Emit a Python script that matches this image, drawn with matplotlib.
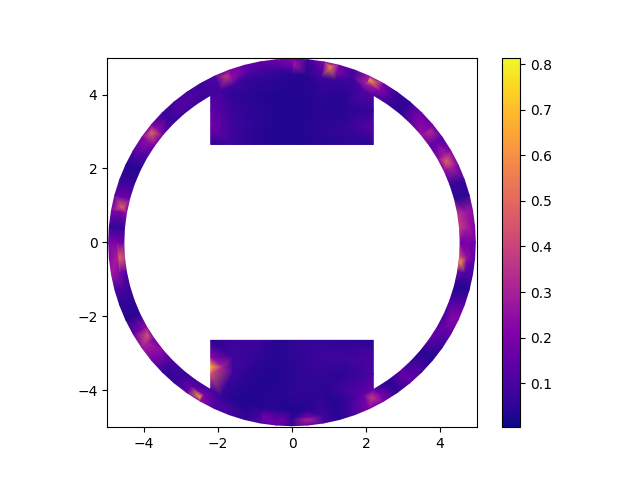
import numpy as np
import matplotlib
matplotlib.use('Agg')
import matplotlib.pyplot as plt
import matplotlib.tri as tri

# values, every 5 degrees round the ring
ringDeg = np.arange(0, 360, 5)
ringOuter = [.18, .22, .25, .05, .07, .20, .22, .12, .18, .18, .05, .07,
             .20, .28, .10, .18, .22, .06, .22, .18, .15, .15, .20, .12,
             .08, .10, .10, .07, .20, .20, .12, .04, .07, .15, .20, .06,
             .20, .22, .28, .10, .05, .04, .14, .28, .18, .06, .07, .15,
             .25, .10, .10, .05, .12, .16, .06, .18, .10, .04, .10, .20,
             .20, .05, .14, .10, .04, .07, .14, .22, .14, .04, .10, .15]
ringMid = [.20, .30, .28, .05, .07, .30, .30, .15, .22, .20, .05, .07,
           .22, .30, .08, .20, .15, .06, .15, .10, .10, .12, .25, .10,
           .08, .12, .12, .07, .25, .25, .12, .04, .07, .18, .20, .06,
           .20, .30, .22, .10, .06, .04, .20, .30, .22, .08, .07, .15,
           .20, .10, .07, .05, .10, .12, .05, .20, .08, .04, .10, .20,
           .20, .05, .15, .10, .04, .10, .15, .22, .12, .03, .12, .25]
ringInner = [.18, .38, .35, .05, .06, .22, .22, .14, .25, .12, .05, .07,
             .14, .12, .07, .07, .08, .04, .04, .05, .06, .06, .09, .09,
             .07, .08, .09, .07, .18, .18, .09, .04, .07, .18, .24, .06,
             .16, .38, .12, .08, .05, .04, .24, .16, .22, .10, .07, .09,
             .08, .07, .03, .03, .04, .04, .03, .04, .07, .03, .07, .14,
             .10, .04, .15, .07, .05, .14, .14, .10, .10, .04, .18, .45]

capX = [-2.2, -1.6, -1.0, -0.4, 0.2, 0.8, 1.4, 2.2]
capY = [2.65, 3.1, 3.55, 3.98]
topCap = [[.05, .07, .04, .03, .03, .04, .05, .05],
          [.18, .08, .05, .03, .03, .05, .06, .13],
          [.15, .07, .05, .03, .03, .04, .04, .06],
          [.08, .05, .04, .03, .03, .05, .04, .12]]
bottomCap = [[.04, .08, .08, .04, .06, .06, .05, .04],
             [.22, .08, .06, .04, .06, .08, .08, .10],
             [.45, .08, .04, .03, .05, .06, .05, .10],
             [.10, .05, .03, .04, .06, .05, .08, .16]]

# the bright spots, put in on their own
hotX = [1.02, 2.10, -3.80, 4.18, -2.50, -2.20, -1.90, 0.42, -1.78, 3.73, 2.15, -0.26, -0.80, 0.07, -4.59, 4.54, -4.67, -3.90]
hotY = [4.76, 4.40, 2.97, 2.18, -4.18, -3.37, -3.37, -4.80, 4.49, 3.00, -4.20, -4.80, -4.68, 4.80, 0.96, -0.53, -0.42, -2.50]
hotV = [.60, .65, .50, .50, .65, .68, .30, .32, .38, .33, .38, .18, .18, .28, .50, .65, .50, .45]

rOut = 4.96
rMid = 4.75
rIn = 4.55

rad = np.radians(ringDeg)
x = list(rOut * np.cos(rad)) + list(rMid * np.cos(rad)) + list(rIn * np.cos(rad))
y = list(rOut * np.sin(rad)) + list(rMid * np.sin(rad)) + list(rIn * np.sin(rad))
v = list(ringOuter) + list(ringMid) + list(ringInner)

for i in range(len(capY)):
    for j in range(len(capX)):
        x.append(capX[j])
        y.append(capY[i])
        v.append(topCap[i][j])
        x.append(capX[j])
        y.append(-capY[i])
        v.append(bottomCap[i][j])

x = np.array(x + hotX)
y = np.array(y + hotY)
v = np.array(v + hotV)

triang = tri.Triangulation(x, y)

# throw away the triangles that fall in the hole
cx = x[triang.triangles].mean(axis=1)
cy = y[triang.triangles].mean(axis=1)
cr = np.hypot(cx, cy)
inCap = (np.abs(cx) <= 2.2) & (np.abs(cy) >= 2.65)
triang.set_mask(~((cr >= rIn) | inCap))

fig, ax = plt.subplots()
mesh = ax.tripcolor(triang, v, shading='gouraud', cmap='plasma', vmin=0.003, vmax=0.815)
ax.set_xlim(-5, 5)
ax.set_ylim(-5, 5)
ax.set_aspect('equal')
fig.colorbar(mesh, ax=ax)
fig.savefig('out.png', dpi=100)
